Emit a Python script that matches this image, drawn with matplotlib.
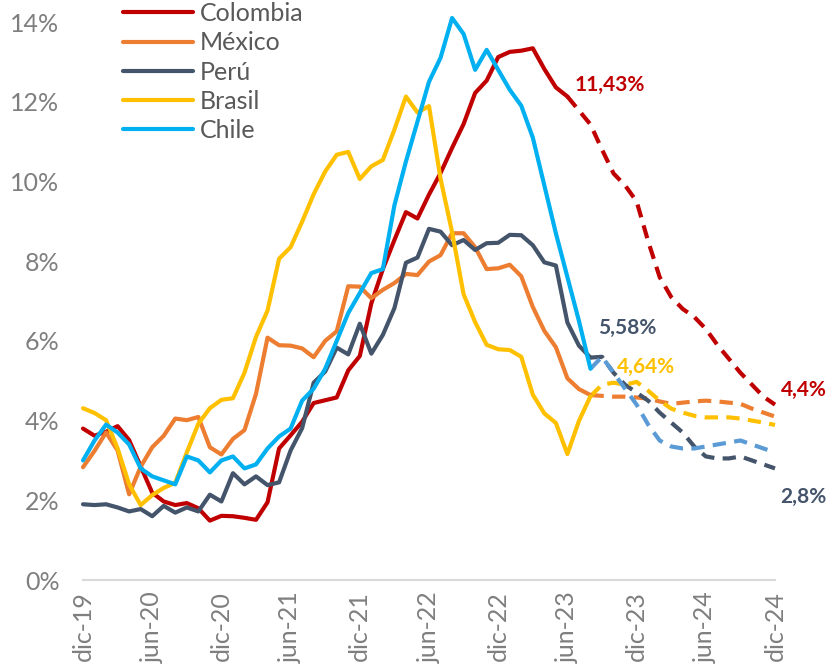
import matplotlib
matplotlib.use('Agg')
import matplotlib.pyplot as plt

#monthly inflation, dic-19 to ago-23 (observed)
colombia = [3.80, 3.62, 3.72, 3.86, 3.51, 2.85, 2.19, 1.97, 1.88, 1.93, 1.80, 1.49, 1.61,
            1.60, 1.56, 1.51, 1.95, 3.30, 3.63, 3.97, 4.44, 4.51, 4.58, 5.26, 5.62, 6.94,
            7.80, 8.53, 9.23, 9.07, 9.67, 10.21, 10.84, 11.44, 12.22, 12.53, 13.12, 13.25,
            13.28, 13.34, 12.82, 12.36, 12.13]
mexico = [2.83, 3.24, 3.70, 3.25, 2.15, 2.84, 3.33, 3.62, 4.05, 4.01, 4.09, 3.33, 3.15,
          3.54, 3.76, 4.67, 6.08, 5.89, 5.88, 5.81, 5.59, 6.00, 6.24, 7.37, 7.36, 7.07,
          7.28, 7.45, 7.68, 7.65, 7.99, 8.15, 8.70, 8.70, 8.35, 7.80, 7.82, 7.91, 7.62,
          6.85, 6.25, 5.84, 5.06, 4.79, 4.64]
peru = [1.90, 1.88, 1.90, 1.82, 1.72, 1.78, 1.60, 1.86, 1.69, 1.82, 1.72, 2.14, 1.97,
        2.68, 2.40, 2.60, 2.38, 2.45, 3.25, 3.81, 4.95, 5.23, 5.83, 5.66, 6.43, 5.68,
        6.15, 6.82, 7.96, 8.09, 8.81, 8.74, 8.40, 8.53, 8.28, 8.45, 8.46, 8.66, 8.65,
        8.40, 7.97, 7.89, 6.46, 5.88, 5.58]
brasil = [4.31, 4.19, 4.01, 3.30, 2.40, 1.88, 2.13, 2.31, 2.44, 3.20, 3.92, 4.31, 4.52,
          4.56, 5.20, 6.10, 6.76, 8.06, 8.35, 8.99, 9.68, 10.25, 10.67, 10.74, 10.06,
          10.38, 10.54, 11.30, 12.13, 11.73, 11.89, 10.07, 8.73, 7.17, 6.47, 5.90, 5.79,
          5.77, 5.60, 4.65, 4.18, 3.94, 3.16, 3.99, 4.61]
chile = [3.0, 3.5, 3.9, 3.7, 3.4, 2.8, 2.6, 2.5, 2.4, 3.1, 3.0, 2.7, 3.0, 3.1, 2.8, 2.9,
         3.3, 3.6, 3.8, 4.5, 4.8, 5.3, 6.0, 6.7, 7.2, 7.7, 7.8, 9.4, 10.5, 11.5, 12.5,
         13.1, 14.1, 13.7, 12.8, 13.3, 12.8, 12.3, 11.9, 11.1, 9.9, 8.7, 7.6, 6.5, 5.3]

#forecasts (dashed) - colombia starts at jun-23, the rest at ago-23
colombia_fc = [12.13, 11.78, 11.43, 10.8, 10.2, 9.9, 9.5, 8.5, 7.6, 7.1, 6.8, 6.6, 6.3,
               5.9, 5.55, 5.2, 4.9, 4.6, 4.4]
mexico_fc = [4.64, 4.62, 4.6, 4.6, 4.58, 4.55, 4.48, 4.42, 4.45, 4.48, 4.5, 4.48, 4.45,
             4.42, 4.3, 4.2, 4.1]
peru_fc = [5.58, 5.6, 5.2, 4.9, 4.7, 4.5, 4.2, 3.95, 3.7, 3.35, 3.1, 3.05, 3.05, 3.1,
           3.0, 2.9, 2.8]
brasil_fc = [4.61, 4.9, 4.95, 4.9, 4.97, 4.75, 4.5, 4.3, 4.2, 4.12, 4.08, 4.08, 4.08,
             4.05, 4.0, 3.95, 3.89]
chile_fc = [5.3, 5.6, 5.2, 4.8, 4.4, 3.9, 3.5, 3.35, 3.3, 3.3, 3.35, 3.4, 3.45, 3.5,
            3.4, 3.3, 3.2]

tick_labels = ['dic-19', 'jun-20', 'dic-20', 'jun-21', 'dic-21', 'jun-22', 'dic-22',
               'jun-23', 'dic-23', 'jun-24', 'dic-24']

plt.rcParams['font.family'] = ['Lato', 'DejaVu Sans']

fig = plt.figure(figsize=(8.32, 6.68), dpi=100)
ax = fig.add_axes([83/832, 1-580/668, (775-83)/832, (580-22)/668])

#solid lines, then dashed forecasts
series = [
    ('Colombia', colombia, colombia_fc, '#C00000', '#C00000'),
    ('México', mexico, mexico_fc, '#ED7D31', '#ED7D31'),
    ('Perú', peru, peru_fc, '#44546A', '#44546A'),
    ('Brasil', brasil, brasil_fc, '#FFC000', '#FFC000'),
    ('Chile', chile, chile_fc, '#00B0F0', '#5B9BD5'),
]
for name, obs, fc, col, fc_col in series:
    ax.plot(range(len(obs)), obs, color=col, lw=3, label=name,
            solid_joinstyle='round', solid_capstyle='round', clip_on=False, zorder=3)
for name, obs, fc, col, fc_col in series:
    start = 60 - len(fc) + 1
    ax.plot(range(start, 61), fc, color=fc_col, lw=3, linestyle=(0, (3.2, 2)),
            dash_joinstyle='round', clip_on=False, zorder=2)

#value labels
bold = dict(fontsize=15, fontweight='bold', ha='center', va='center')
ax.text(45.7, 12.42, '11,43%', color='#C00000', **bold)
ax.text(47.2, 6.32, '5,58%', color='#44546A', **bold)
ax.text(48.8, 5.34, '4,64%', color='#FFC000', **bold)
ax.text(62.5, 4.77, '4,4%', color='#C00000', clip_on=False, **bold)
ax.text(62.5, 2.08, '2,8%', color='#44546A', clip_on=False, **bold)

ax.set_xlim(0, 60)
ax.set_ylim(0, 14)
ax.set_yticks(range(0, 15, 2))
ax.set_yticklabels([f'{v}%' for v in range(0, 15, 2)])
ax.set_xticks(range(0, 61, 6))
ax.set_xticklabels(tick_labels, rotation=90)
ax.tick_params(length=0, labelsize=18, colors='#7F7F7F')
ax.tick_params(axis='y', pad=17)
ax.tick_params(axis='x', pad=8)
for s in ['top', 'right', 'left']:
    ax.spines[s].set_visible(False)
ax.spines['bottom'].set_color('#D9D9D9')
ax.spines['bottom'].set_linewidth(1.5)

leg = fig.legend(loc='upper left', bbox_to_anchor=(123/832, 0.997), frameon=False,
                 fontsize=18, handlelength=2.8, handletextpad=0.28, labelspacing=0.25,
                 borderpad=0, borderaxespad=0)
for t in leg.get_texts():
    t.set_color('#595959')

fig.savefig('out.png', dpi=100)
